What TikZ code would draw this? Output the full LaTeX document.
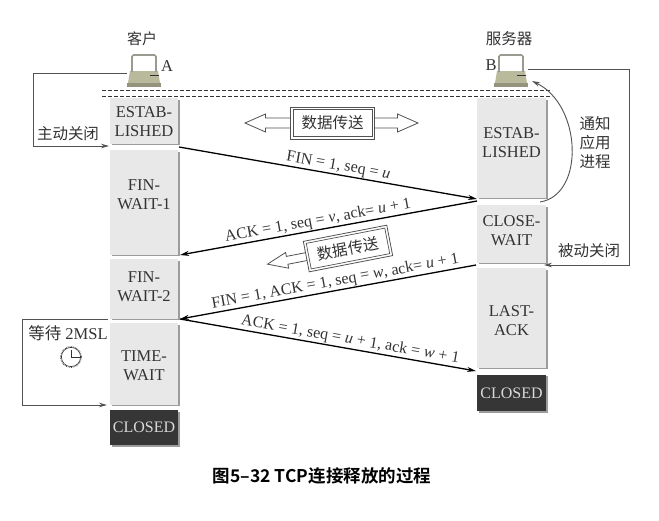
\documentclass[tikz,border=0pt]{standalone}
\usepackage{fontspec}
\setmainfont{Liberation Serif}
\newfontfamily\cjk{Noto Sans CJK SC}
\newfontfamily\capfont{Noto Sans CJK SC Bold}
\usetikzlibrary{arrows.meta,calc}
\definecolor{ink}{HTML}{333333}
\definecolor{boxfill}{HTML}{E8E8E8}
\definecolor{boxshade}{HTML}{9C9C9C}
\definecolor{darkbox}{HTML}{363636}
\definecolor{pcbase}{HTML}{B9B99C}
\definecolor{pcedge}{HTML}{9A9A90}
\newcommand{\zh}[1]{{\cjk #1}}
\newcommand{\var}[1]{\textit{#1}}
\tikzset{
  x=1pt,y=-1pt,
  every node/.style={text=ink},
  plain/.style={inner sep=0pt,outer sep=0pt,font=\fontsize{15}{16}\selectfont},
  statefill/.style={fill=boxfill,inner sep=0pt,outer sep=0pt,anchor=north west},
  darkfill/.style={fill=darkbox,inner sep=0pt,outer sep=0pt,anchor=north west},
  statetext/.style={plain,align=center,font=\fontsize{16.5}{19}\selectfont},
  msg/.style={line width=1.3pt,black,-{Stealth[length=9pt,width=5pt]}},
  msglabel/.style={plain,sloped,above,inner sep=1.5pt,text=ink,font=\fontsize{16}{17}\selectfont},
  side/.style={line width=0.9pt,draw=ink!85,-{Stealth[length=8pt,width=4.5pt]}},
  transfer/.style={plain,font=\fontsize{15.5}{16}\selectfont\cjk},
  frame/.style={draw=ink!85,line width=0.8pt,fill=white},
  frameinner/.style={draw=ink!85,line width=0.7pt},
  hollow/.style={draw=ink!85,line width=0.8pt,fill=white,line join=miter},
  pc/.pic={
    \fill[pcbase] (-14,-1) -- (14,-1) -- (16,11) -- (-16,11) -- cycle;
    \fill[pcbase!80!black] (-17,11) rectangle (17,15);
    \fill[white] (-11,-16) rectangle (11,-1);
    \draw[pcedge,line width=1.6pt,rounded corners=1.5pt] (-12,0) -- (-12,-17) -- (12,-17) -- (12,0);
    \draw[line width=0.9pt,ink] (6,3) -- (15,3);
  }
}
\newcommand{\statebox}[7]{%
  \fill[boxshade] ({#2+2},{#3+2}) rectangle ({#4+1.5},{#5+1.5});
  \node[statefill,minimum width={(#4-#2)*1pt},minimum height={(#5-#3)*1pt}] (#1) at (#2,#3) {};
  \node[statetext] (#1txt) at ({(#2+#4)/2},#6) {#7};
}
\newcommand{\closedbox}[6]{%
  \fill[boxshade] ({#2+1.5},{#3+1.5}) rectangle ({#4+1.5},{#5+1.5});
  \node[darkfill,minimum width={(#4-#2)*1pt},minimum height={(#5-#3)*1pt}] (#1) at (#2,#3) {};
  \node[statetext,text=white!85!black,font=\fontsize{16}{16}\selectfont] (#1txt) at ({(#2+#4)/2},{(#3+#5)/2}) {#6};
}
\begin{document}
\begin{tikzpicture}
\useasboundingbox (0,0) rectangle (659,521);
\fill[white] (0,0) rectangle (659,521);

% computers and titles
\pic at (144,72) {pc};
\pic at (511,72) {pc};
\node[plain,minimum width=34pt,minimum height=33pt] (pcA) at (144,70) {};
\node[plain,minimum width=34pt,minimum height=33pt] (pcB) at (511,70) {};
\node[plain] (tA) at (142,39) {\zh{客户}};
\node[plain,font=\fontsize{15.5}{16}\selectfont] (tB) at (509,39) {\zh{服务器}};
\node[plain,font=\fontsize{16.5}{17}\selectfont] (lA) at (167,66) {A};
\node[plain,font=\fontsize{16.5}{17}\selectfont] (lB) at (491,65) {B};

% timeline top
\coordinate (dl1) at (102,91); \coordinate (dr1) at (552,91);
\coordinate (dl2) at (102,97); \coordinate (dr2) at (552,97);
\draw[ink,line width=1pt,dash pattern=on 4pt off 2pt] (dl1) -- (dr1);
\draw[ink,line width=1pt,dash pattern=on 4pt off 2pt] (dl2) -- (dr2);

% client states
\statebox{aEst}{110}{98}{178}{144}{122}{ESTAB-\\LISHED}
\statebox{aW1}{110}{150}{178}{255}{195}{FIN-\\WAIT-1}
\statebox{aW2}{110}{259}{178}{319}{287}{FIN-\\WAIT-2}
\statebox{aTW}{110}{323}{178}{405}{366}{TIME-\\WAIT}
\closedbox{aCl}{110}{410}{178}{445}{CLOSED}

% server states
\statebox{bEst}{477}{98}{546}{198}{143}{ESTAB-\\LISHED}
\statebox{bCW}{477}{205}{546}{263}{231}{CLOSE-\\WAIT}
\statebox{bLA}{477}{268}{546}{368}{321}{LAST-\\ACK}
\closedbox{bCl}{477}{375}{546}{411}{CLOSED}

% message end points
\coordinate (m1s) at (179,147); \coordinate (m1e) at (477,199);
\coordinate (m2s) at (477,201); \coordinate (m2e) at (180,255);
\coordinate (m3s) at (476,265); \coordinate (m3e) at (180,319);
\coordinate (m4s) at (180,319); \coordinate (m4e) at (476,371);

\draw[msg] (m1s) -- node[msglabel,pos=0.53] (t1) {FIN = 1, seq = \var{u}} (m1e);
\draw[msg] (m2s) -- node[msglabel,pos=0.53] (t2) {ACK = 1, seq = \var{v}, ack= \var{u} + 1} (m2e);
\draw[msg] (m3s) -- node[msglabel,pos=0.47] (t3) {FIN = 1, ACK = 1, seq = \var{w}, ack= \var{u} + 1} (m3e);
\draw[msg] (m4s) -- node[msglabel,pos=0.57] (t4) {ACK = 1, seq = \var{u} + 1, ack = \var{w} + 1} (m4e);

% active close
\coordinate (ac1) at (33,73); \coordinate (ac2) at (33,146); \coordinate (ac3) at (109,146);
\draw[side] (pcA.west |- ac1) -- (ac1) -- (ac2) -- (ac3);
\node[plain,font=\fontsize{15.5}{16}\selectfont] (acl) at (68,134) {\zh{主动关闭}};

% passive close
\coordinate (pc1) at (629,69); \coordinate (pc2) at (629,265); \coordinate (pc3) at (544,265);
\draw[side] (pcB.east |- pc1) -- (pc1) -- (pc2) -- (pc3);
\node[plain,font=\fontsize{15.5}{16}\selectfont] (pcl) at (589,251) {\zh{被动关闭}};

% notify application
\coordinate (ns) at (540,202); \coordinate (ne) at (532,81);
\draw[side] (ns) .. controls (585,195) and (582,105) .. (ne);
\node[plain,align=center,font=\fontsize{15.5}{19}\selectfont] (ntf) at (595,143) {\zh{通知}\\\zh{应用}\\\zh{进程}};

% 2MSL
\coordinate (w1) at (108,319); \coordinate (w2) at (22,319); \coordinate (w3) at (22,405); \coordinate (w4) at (107,405);
\draw[side] (w1) -- (w2) -- (w3) -- (w4);
\node[plain,font=\fontsize{16.5}{17}\selectfont] (wl) at (68,333) {\zh{等待} 2MSL};
\node[circle,draw=ink,densely dotted,line width=0.7pt,minimum size=21pt,inner sep=0pt] (clock) at (71,357) {};
\draw[ink,line width=0.6pt] (clock.center) circle (9.6);
\draw[ink,line width=0.8pt] (71,350) -- (clock.center) -- (80,357);

% data transfer top
\begin{scope}[shift={(332.5,123)}]
  \coordinate (tipL) at (-87.5,0);
  \coordinate (tipR) at (85.5,0);
  \draw[hollow] (-42,-5) -- (-67,-5) -- (-67,-9) -- (tipL) -- (-67,9) -- (-67,5) -- (-42,5);
  \draw[hollow] (42,-5) -- (65,-5) -- (65,-9) -- (tipR) -- (65,9) -- (65,5) -- (42,5);
  \draw[frame] (-42,-16) rectangle (42,16);
  \draw[frameinner] (-39.5,-13.5) rectangle (39.5,13.5);
  \node[transfer] (dt1) at (0,0) {数据传送};
\end{scope}

% data transfer middle
\begin{scope}[shift={(348,248.5)},rotate=11]
  \coordinate (tip2) at (-82,0);
  \draw[hollow] (-42,-4) -- (-62,-4) -- (-62,-8) -- (tip2) -- (-62,8) -- (-62,4) -- (-42,4);
  \draw[frame] (-42.5,-15.5) rectangle (42.5,15.5);
  \draw[frameinner] (-40,-13) rectangle (40,13);
  \node[transfer,rotate=11] (dt2) at (0,0) {数据传送};
\end{scope}

% caption
\node[plain,font=\fontsize{17.5}{18}\selectfont\capfont,text=black] (cap) at (322,476) {图5–32 TCP连接释放的过程};
\end{tikzpicture}
\end{document}
